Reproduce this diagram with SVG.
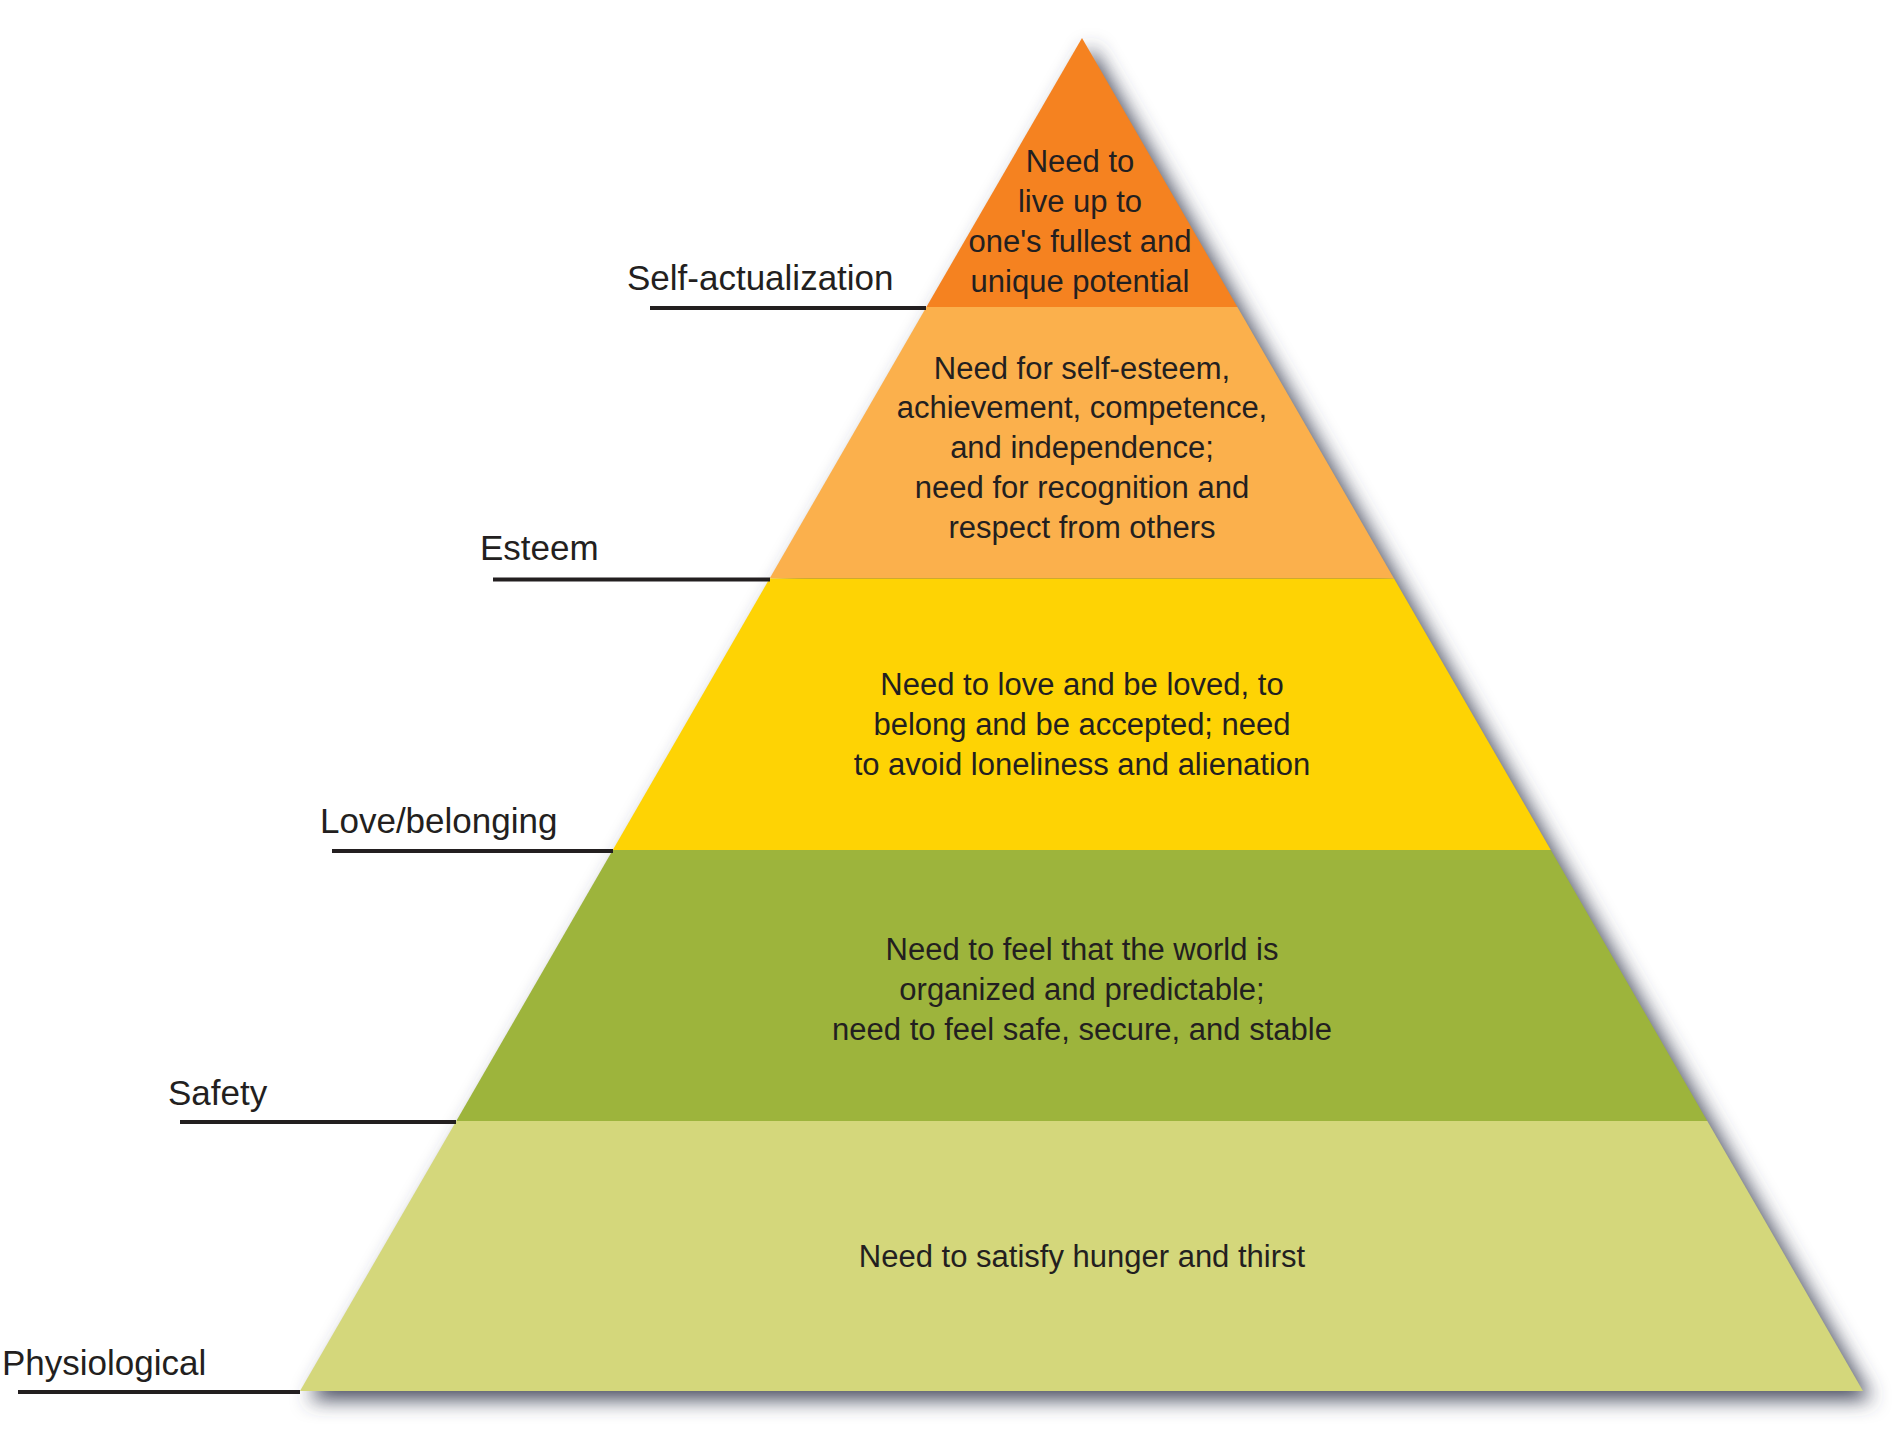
<svg xmlns="http://www.w3.org/2000/svg" width="1901" height="1430" viewBox="0 0 1901 1430">
<defs>
<filter id="shadow" x="-10%" y="-10%" width="120%" height="120%">
<feGaussianBlur in="SourceAlpha" stdDeviation="10"/>
<feOffset dx="9" dy="9" result="b"/>
<feFlood flood-color="#3f4458" flood-opacity="0.95"/>
<feComposite in2="b" operator="in"/>
</filter>
<style>
.t{font-family:"Liberation Sans",Arial,sans-serif;font-size:31px;fill:#231f20;text-anchor:middle}
.lbl{font-family:"Liberation Sans",Arial,sans-serif;font-size:35px;fill:#231f20}
.ln{stroke:#231f20;stroke-width:4;fill:none}
</style>
</defs>
<rect width="1901" height="1430" fill="#ffffff"/>
<g id="pyramid-shadow">
<polygon points="1082,38 1863,1391 300,1391" fill="#000" filter="url(#shadow)"/>
</g>
<g id="self-actualization">
<polygon points="1082,38 1237.4,307 926.4,307" fill="#f58220"/>
<text class="t" x="1080" y="172">Need to</text>
<text class="t" x="1080" y="212">live up to</text>
<text class="t" x="1080" y="252">one's fullest and</text>
<text class="t" x="1080" y="292">unique potential</text>
<text class="lbl" x="627" y="290">Self-actualization</text>
</g>
<g id="esteem">
<polygon points="926.4,307 1237.4,307 1394,578.5 769.6,578.5" fill="#fbb04c"/>
<text class="t" x="1082" y="379">Need for self-esteem,</text>
<text class="t" x="1082" y="418">achievement, competence,</text>
<text class="t" x="1082" y="458">and independence;</text>
<text class="t" x="1082" y="498">need for recognition and</text>
<text class="t" x="1082" y="538">respect from others</text>
<text class="lbl" x="480" y="560">Esteem</text>
</g>
<g id="love-belonging">
<polygon points="769.6,578.5 1394,578.5 1550.8,850 612.8,850" fill="#fed304"/>
<text class="t" x="1082" y="695">Need to love and be loved, to</text>
<text class="t" x="1082" y="735">belong and be accepted; need</text>
<text class="t" x="1082" y="775">to avoid loneliness and alienation</text>
<text class="lbl" x="320" y="833">Love/belonging</text>
</g>
<g id="safety">
<polygon points="612.8,850 1550.8,850 1707.3,1121 456.3,1121" fill="#9db43c"/>
<text class="t" x="1082" y="960">Need to feel that the world is</text>
<text class="t" x="1082" y="1000">organized and predictable;</text>
<text class="t" x="1082" y="1040">need to feel safe, secure, and stable</text>
<text class="lbl" x="168" y="1105">Safety</text>
</g>
<g id="physiological">
<polygon points="456.3,1121 1707.3,1121 1863,1391 300,1391" fill="#d4d77b"/>
<text class="t" x="1082" y="1267">Need to satisfy hunger and thirst</text>
<text class="lbl" x="2" y="1375">Physiological</text>
</g>
<g id="connectors">
<line class="ln" x1="650" y1="308" x2="926" y2="308"/>
<line class="ln" x1="493" y1="579.5" x2="770" y2="579.5"/>
<line class="ln" x1="332" y1="851" x2="613" y2="851"/>
<line class="ln" x1="180" y1="1122" x2="456" y2="1122"/>
<line class="ln" x1="18" y1="1392" x2="300" y2="1392"/>
</g>
</svg>
